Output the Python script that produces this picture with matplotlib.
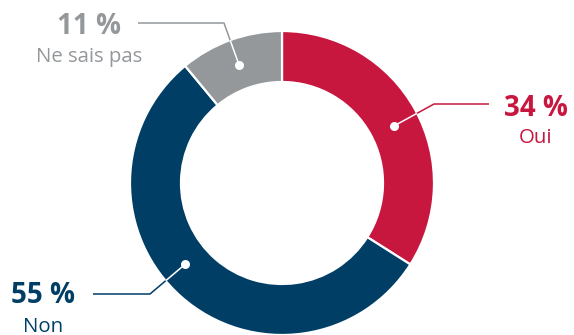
import numpy as np
import matplotlib
matplotlib.use("Agg")
import matplotlib.pyplot as plt

# survey answers, clockwise from 12 o'clock
labels = ["Oui", "Non", "Ne sais pas"]
values = [34, 55, 11]
colors = ["#C8173F", "#003E66", "#94989B"]

W, H = 574, 335
fig = plt.figure(figsize=(W / 100, H / 100), dpi=100)
ax = fig.add_axes([0, 0, 1, 1])

cx, cy = 282, H - 183
r_out, ring = 152, 51

wedges, _ = ax.pie(values, colors=colors, startangle=90, counterclock=False,
                   center=(cx, cy), radius=r_out,
                   wedgeprops=dict(width=ring, edgecolor="white", linewidth=1.6))

# leader lines: dot angle (deg clockwise from top), elbow, end of line (image px)
leaders = [
    (63, (434, 104), (489, 104)),
    (230, (150, 294), (93, 294)),
    (340, (224, 23), (138, 23)),
]
# text: centre x, baseline of the percentage, baseline of the label
text_pos = [
    (536, 116, 143),
    (43, 303, 332),
    (89, 34, 62),
]

r_dot = 126
for w, col, val, lab, (ang, elbow, end), (tx, yb1, yb2) in zip(
        wedges, colors, values, labels, leaders, text_pos):
    a = np.deg2rad(ang)
    dx, dy = cx + r_dot * np.sin(a), cy + r_dot * np.cos(a)
    xs = [dx, elbow[0], end[0]]
    ys = [dy, H - elbow[1], H - end[1]]
    ax.plot(xs, ys, color=col, lw=1.1, solid_capstyle="butt", zorder=3)
    inner, = ax.plot(xs, ys, color="white", lw=1.1, zorder=4)
    inner.set_clip_path(w)
    ax.plot(dx, dy, "o", ms=6.5, color="white", mec="none", zorder=5)

    ax.text(tx, H - yb1, f"{val} %", color=col, fontsize=20, fontweight="bold",
            family=["Open Sans", "DejaVu Sans"], ha="center", va="baseline")
    ax.text(tx, H - yb2, lab, color=col, fontsize=14.7,
            family=["Open Sans", "DejaVu Sans"], ha="center", va="baseline")

ax.set_xlim(0, W)
ax.set_ylim(0, H)
ax.set_aspect("equal")
ax.axis("off")

fig.savefig("out.png", dpi=100)
